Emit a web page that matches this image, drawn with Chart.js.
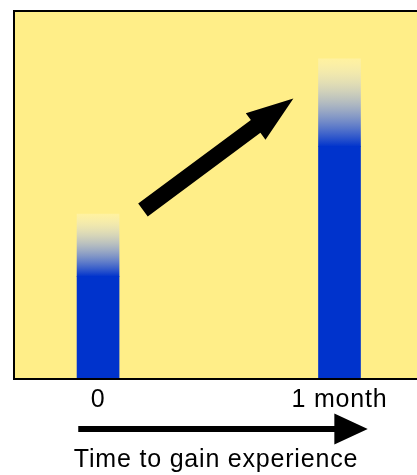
<!DOCTYPE html>
<html><head><meta charset="utf-8">
<script src="https://cdn.jsdelivr.net/npm/chart.js@4.4.0/dist/chart.umd.min.js"></script>
<style>html,body{margin:0;padding:0;background:#fff;overflow:hidden}#wrap{width:417px;height:475px}</style>
</head><body><div id="wrap"><canvas id="c" width="417" height="475"></canvas></div>
<script>
// ---- data ----
const categories = ['0', '1 month'];
const tickValues = [0, 1];
const solidValues = [27.7, 63.2];
const fadeTopValues = [44.8, 87.2];
const axisTitle = 'Time to gain experience';
const trendArrowFrom = [0.186, 45.9];
const trendArrowTo = [0.809, 76.4];
const timeArrowFrom = -0.082;
const timeArrowTo = 1.117;

const BLUE = '#0033CC';
const YELLOW = '#FFEE88';

function drawArrow(ctx, x1, y1, x2, y2, w, hl, hw) {
  const dx = x2 - x1, dy = y2 - y1, L = Math.hypot(dx, dy);
  const ux = dx / L, uy = dy / L, nx = -uy, ny = ux;
  const bx = x2 - ux * hl, by = y2 - uy * hl;
  ctx.beginPath();
  ctx.moveTo(x1 + nx * w / 2, y1 + ny * w / 2);
  ctx.lineTo(bx + nx * w / 2, by + ny * w / 2);
  ctx.lineTo(bx + nx * hw / 2, by + ny * hw / 2);
  ctx.lineTo(x2, y2);
  ctx.lineTo(bx - nx * hw / 2, by - ny * hw / 2);
  ctx.lineTo(bx - nx * w / 2, by - ny * w / 2);
  ctx.lineTo(x1 - nx * w / 2, y1 - ny * w / 2);
  ctx.closePath();
  ctx.fill();
}

const bgPlugin = {
  id: 'bg',
  beforeDraw(chart) {
    const {ctx, chartArea: a} = chart;
    ctx.save();
    ctx.fillStyle = '#fff';
    ctx.fillRect(0, 0, chart.width, chart.height);
    ctx.fillStyle = YELLOW;
    ctx.fillRect(a.left, a.top, a.right - a.left, a.bottom - a.top);
    ctx.restore();
    ctx.letterSpacing = '0.8px';
  },
  afterDatasetsDraw(chart) {
    const {ctx, chartArea: a, scales: {x, y}} = chart;
    ctx.save();
    // frame (left, top, bottom)
    ctx.strokeStyle = '#000';
    ctx.lineWidth = 2;
    ctx.beginPath();
    ctx.moveTo(a.right + 3, a.top - 1);
    ctx.lineTo(a.left - 1, a.top - 1);
    ctx.lineTo(a.left - 1, a.bottom + 1);
    ctx.lineTo(a.right + 3, a.bottom + 1);
    ctx.stroke();
    // trend arrow
    ctx.fillStyle = '#000';
    drawArrow(ctx,
      x.getPixelForValue(trendArrowFrom[0]), y.getPixelForValue(trendArrowFrom[1]),
      x.getPixelForValue(trendArrowTo[0]), y.getPixelForValue(trendArrowTo[1]),
      16, 47, 33);
    // time arrow below tick labels
    const ay = x.top + 51;
    drawArrow(ctx, x.getPixelForValue(timeArrowFrom), ay, x.getPixelForValue(timeArrowTo), ay, 6, 33.4, 31);
    ctx.restore();
  }
};

new Chart(document.getElementById('c'), {
  type: 'bar',
  data: {
    datasets: [
      {
        data: tickValues.map((v, i) => ({x: v, y: solidValues[i]})),
        backgroundColor: BLUE,
        borderWidth: 0,
        barThickness: 42,
        grouped: false
      },
      {
        data: tickValues.map((v, i) => ({x: v, y: [solidValues[i], fadeTopValues[i]]})),
        backgroundColor: (c) => {
          const chart = c.chart;
          if (!chart.chartArea || c.dataIndex === undefined) return 'rgba(0,51,204,0.5)';
          const ys = chart.scales.y;
          const i = c.dataIndex;
          const g = chart.ctx.createLinearGradient(0, ys.getPixelForValue(solidValues[i]), 0, ys.getPixelForValue(fadeTopValues[i]));
          g.addColorStop(0, 'rgba(0,51,204,1)');
          g.addColorStop(1, 'rgba(255,255,255,0.2)');
          return g;
        },
        borderWidth: 0,
        barThickness: 42,
        grouped: false
      }
    ]
  },
  options: {
    responsive: false,
    animation: false,
    devicePixelRatio: 1,
    layout: {padding: {left: 15, top: 12, right: 0, bottom: 0}},
    plugins: {legend: {display: false}, tooltip: {enabled: false}},
    scales: {
      x: {
        type: 'linear',
        min: -0.344,
        max: 1.321,
        offset: false,
        grid: {display: false, drawTicks: false},
        border: {display: false},
        afterBuildTicks: (s) => { s.ticks = tickValues.map(v => ({value: v})); },
        afterFit: (s) => { s.height = 97; },
        ticks: {
          autoSkip: false,
          maxRotation: 0,
          padding: 7,
          color: '#000',
          font: {family: "'Liberation Sans', Arial, sans-serif", size: 25},
          callback: (v) => { const i = tickValues.indexOf(v); return i >= 0 ? categories[i] : ''; }
        },
        title: {
          display: true,
          text: axisTitle,
          color: '#000',
          padding: {top: 0, bottom: 0},
          font: {family: "'Liberation Sans', Arial, sans-serif", size: 25}
        }
      },
      y: {
        display: false,
        min: 0,
        max: 100
      }
    }
  },
  plugins: [bgPlugin]
});
</script>
</body></html>
